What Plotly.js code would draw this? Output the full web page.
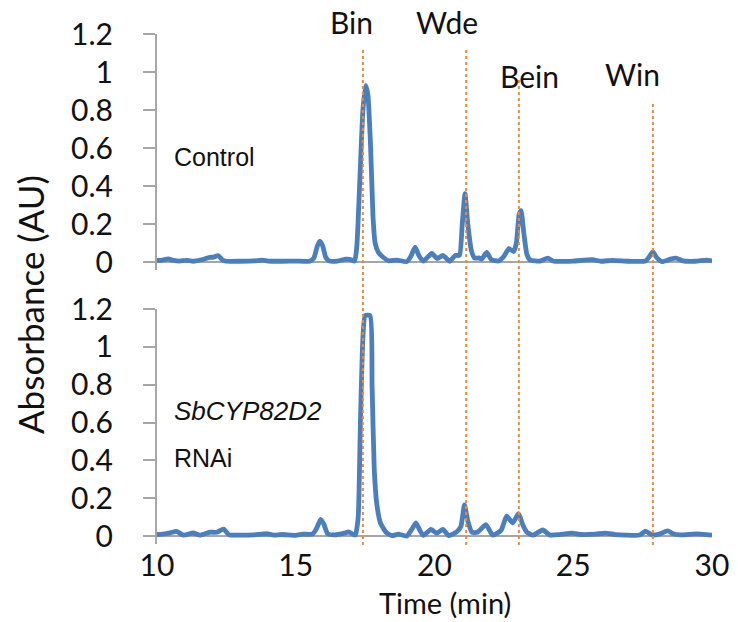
<!DOCTYPE html>
<html>
<head>
<meta charset="utf-8">
<script src="https://cdn.plot.ly/plotly-3.0.1.min.js"></script>
<style>
  html, body { margin: 0; padding: 0; background: #ffffff; }
  #chart { width: 738px; height: 622px; }
</style>
</head>
<body>
<div id="chart"></div>
<script>
// ---- Data ----
// Control trace
const controlTime = [10.0, 10.2, 10.4, 10.6, 10.8, 11.1, 11.3, 11.6, 11.9, 12.05, 12.2, 12.35, 12.5, 13.0, 13.5, 13.8, 14.0, 14.5, 15.0, 15.5,
  15.65, 15.78, 15.87, 15.97, 16.08, 16.2, 16.5, 16.8, 16.95, 17.12, 17.2, 17.3, 17.42, 17.52, 17.6, 17.7, 17.78, 17.86, 17.98, 18.15,
  18.35, 18.65, 19.0, 19.15, 19.3, 19.45, 19.6, 19.9, 20.1, 20.3, 20.55, 20.75, 20.9, 21.0, 21.1, 21.2, 21.33, 21.45, 21.6, 21.7,
  21.88, 22.05, 22.3, 22.5, 22.68, 22.85, 22.95, 23.05, 23.12, 23.22, 23.33, 23.45, 23.8, 24.08, 24.3, 25.0, 25.68, 26.0, 26.4, 27.0,
  27.6, 27.75, 27.87, 28.0, 28.2, 28.5, 28.7, 28.95, 29.4, 29.8, 30.0];
const controlAbs = [0.008, 0.010, 0.016, 0.008, 0.005, 0.009, 0.004, 0.012, 0.024, 0.026, 0.034, 0.012, 0.004, 0.004, 0.006, 0.010, 0.005, 0.004, 0.005, 0.004,
  0.020, 0.085, 0.110, 0.085, 0.025, 0.006, 0.005, 0.015, 0.014, 0.005, 0.080, 0.400, 0.800, 0.930, 0.880, 0.600, 0.250, 0.100, 0.050, 0.025,
  0.006, 0.010, 0.002, 0.030, 0.078, 0.030, 0.005, 0.045, 0.018, 0.035, 0.004, 0.035, 0.035, 0.200, 0.360, 0.200, 0.060, 0.020, 0.022, 0.015,
  0.050, 0.012, 0.005, 0.030, 0.070, 0.055, 0.100, 0.250, 0.270, 0.150, 0.040, 0.010, 0.005, 0.020, 0.004, 0.005, 0.012, 0.004, 0.009, 0.004,
  0.005, 0.030, 0.055, 0.025, 0.002, 0.015, 0.020, 0.006, 0.004, 0.010, 0.006];

// SbCYP82D2 RNAi trace
const rnaiTime = [10.0, 10.3, 10.5, 10.7, 10.95, 11.3, 11.55, 11.9, 12.15, 12.4, 12.6, 13.0, 13.5, 13.95, 14.2, 14.5, 15.0, 15.25, 15.6, 15.75,
  15.9, 16.02, 16.15, 16.4, 16.75, 16.9, 17.05, 17.15, 17.25, 17.33, 17.42, 17.5, 17.68, 17.75, 17.83, 17.92, 18.05, 18.25, 18.47, 18.7,
  19.0, 19.18, 19.33, 19.47, 19.6, 19.87, 20.08, 20.3, 20.52, 20.8, 20.95, 21.08, 21.2, 21.35, 21.55, 21.85, 22.1, 22.4, 22.6, 22.82,
  23.03, 23.18, 23.33, 23.55, 23.9, 24.15, 24.5, 24.95, 25.3, 25.8, 26.15, 26.5, 26.9, 27.4, 27.6, 27.85, 28.1, 28.4, 28.6, 28.85,
  29.45, 29.8, 30.0];
const rnaiAbs = [0.008, 0.012, 0.018, 0.025, 0.005, 0.016, 0.005, 0.020, 0.020, 0.037, 0.006, 0.005, 0.006, 0.012, 0.005, 0.008, 0.004, 0.010, 0.010, 0.040,
  0.088, 0.060, 0.012, 0.006, 0.015, 0.022, 0.010, 0.006, 0.100, 0.600, 1.050, 1.165, 1.165, 0.800, 0.350, 0.170, 0.070, 0.020, 0.002, 0.010,
  0.000, 0.035, 0.070, 0.030, 0.003, 0.035, 0.015, 0.035, 0.002, 0.022, 0.050, 0.165, 0.080, 0.020, 0.020, 0.060, 0.005, 0.030, 0.105, 0.070,
  0.118, 0.060, 0.020, 0.005, 0.032, 0.006, 0.008, 0.015, 0.008, 0.010, 0.015, 0.008, 0.005, 0.005, 0.026, 0.005, 0.010, 0.027, 0.012, 0.006,
  0.011, 0.008, 0.005];

// Marker compounds (retention times, min)
const peakNames = ["Bin", "Wde", "Bein", "Win"];
const peakTimes = [17.42, 21.14, 23.04, 27.87];

// Axis ticks
const yTickVals = [0, 0.2, 0.4, 0.6, 0.8, 1, 1.2];
const yTickText = ["0", "0.2", "0.4", "0.6", "0.8", "1", "1.2"];
const xTickVals = [10, 15, 20, 25, 30];
const xTickText = ["10", "15", "20", "25", "30"];

// ---- Styles / layout ----
const W = 738, H = 622;
const px = v => v / W;            // horizontal pixel -> paper
const py = v => (H - v) / H;      // vertical pixel (from top) -> paper

const lineStyle = { color: "#4a7ebf", width: 4.8, shape: "spline", smoothing: 0.5 };
const gray = "#a6a6a6";
const tickFont = { family: "Lato, 'Open Sans', sans-serif", size: 30, color: "#111111" };

const traces = [
  { x: controlTime, y: controlAbs, xaxis: "x", yaxis: "y", type: "scatter", mode: "lines", line: lineStyle, hoverinfo: "skip" },
  { x: rnaiTime, y: rnaiAbs, xaxis: "x2", yaxis: "y2", type: "scatter", mode: "lines", line: lineStyle, hoverinfo: "skip" }
];

const xDomain = [px(157), px(712)];
const yAxisCommon = {
  range: [-0.04, 1.2],
  tickmode: "array", tickvals: yTickVals, ticktext: yTickText,
  ticks: "outside", ticklen: 12, tickwidth: 2, tickcolor: gray,
  showline: true, linecolor: gray, linewidth: 2,
  zeroline: true, zerolinecolor: gray, zerolinewidth: 2,
  showgrid: false, tickfont: tickFont, ticklabelstandoff: 24, fixedrange: true
};

const lineTops = [50, 50, 78, 103];
const labelCenters = [22, 22, 76, 74];
const labelShifts = [-11, -19, 11, -20];

const shapes = peakTimes.map((t, i) => ({
  type: "line", xref: "x", yref: "paper",
  x0: t, x1: t, y0: py(545), y1: py(lineTops[i]),
  line: { color: "#f0883a", width: 2, dash: "dot" }
}));

const annotations = peakNames.map((name, i) => ({
  text: name, xref: "x", yref: "paper", x: peakTimes[i], y: py(labelCenters[i]),
  xshift: labelShifts[i], xanchor: "center", yanchor: "middle", showarrow: false,
  font: { family: "Lato, sans-serif", size: 30, color: "#111111" }
}));

const sideFont = { family: "'Liberation Sans', Arial, sans-serif", size: 25, color: "#111111" };
annotations.push(
  { text: "Control", xref: "paper", yref: "paper", x: px(172), y: py(157), xanchor: "left", yanchor: "middle", showarrow: false, font: sideFont },
  { text: "<i>SbCYP82D2</i>", xref: "paper", yref: "paper", x: px(172), y: py(411), xanchor: "left", yanchor: "middle", showarrow: false,
    font: { family: "'Liberation Sans', Arial, sans-serif", size: 26, color: "#111111" } },
  { text: "RNAi", xref: "paper", yref: "paper", x: px(172), y: py(458), xanchor: "left", yanchor: "middle", showarrow: false, font: sideFont },
  { text: "Absorbance (AU)", xref: "paper", yref: "paper", x: px(30), y: py(305), textangle: -90, xanchor: "center", yanchor: "middle", showarrow: false,
    font: { family: "Lato, sans-serif", size: 35, color: "#111111" } },
  { text: "Time (min)", xref: "paper", yref: "paper", x: px(445), y: py(602), xanchor: "center", yanchor: "middle", showarrow: false,
    font: { family: "Lato, sans-serif", size: 29, color: "#111111" } }
);

const layout = {
  width: W, height: H,
  margin: { l: 0, r: 0, t: 0, b: 0, pad: 0 },
  paper_bgcolor: "#ffffff", plot_bgcolor: "rgba(0,0,0,0)",
  showlegend: false,
  xaxis: { domain: xDomain, range: [10, 30], anchor: "y", showticklabels: false, ticks: "", showline: false, showgrid: false, zeroline: false, fixedrange: true },
  xaxis2: { domain: xDomain, range: [10, 30], anchor: "y2", tickmode: "array", tickvals: xTickVals, ticktext: xTickText, ticks: "",
            showline: false, showgrid: false, zeroline: false, tickfont: tickFont, ticklabelstandoff: 1, fixedrange: true },
  yaxis: Object.assign({ domain: [py(269.6), py(34)], anchor: "x" }, yAxisCommon),
  yaxis2: Object.assign({ domain: [py(543.6), py(309)], anchor: "x2" }, yAxisCommon),
  shapes: shapes,
  annotations: annotations
};

Plotly.newPlot("chart", traces, layout, { displayModeBar: false, staticPlot: true });
</script>
</body>
</html>
